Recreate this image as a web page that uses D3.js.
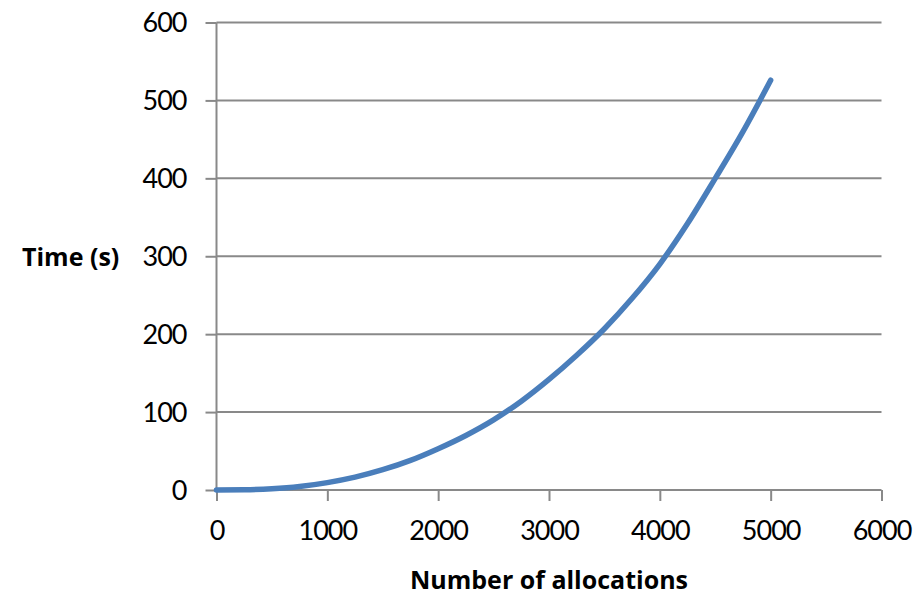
<!DOCTYPE html>
<html><head><meta charset="utf-8">
<script src="https://cdn.jsdelivr.net/npm/d3@7"></script>
<style>body{margin:0;background:#fff}svg{display:block}</style>
</head><body>
<script>
const allocations = [0,250,500,750,1000,1250,1500,1750,2000,2250,2500,2750,3000,3250,3500,3750,4000,4250,4500,4750,5000];
const times = [0,0.3,1.6,4.5,9.5,16.5,26,38,53,70,90,114,142,173,207,246,290,342,400,460,526];
const xTicks = [0,1000,2000,3000,4000,5000,6000];
const yTicks = [0,100,200,300,400,500,600];
const xTitle = "Number of allocations";
const yTitle = "Time (s)";

const W=918,H=598;
const svg=d3.select("body").append("svg").attr("width",W).attr("height",H);
const x=d3.scaleLinear().domain([0,6000]).range([216.5,881.5]);
const y=d3.scaleLinear().domain([0,600]).range([490,22.5]);
const grid="#898989";
const font="Lato, 'Open Sans', sans-serif";
const tfont="'Open Sans', Lato, sans-serif";

// gridlines
svg.append("g").selectAll("line").data(yTicks.filter(d=>d>0)).join("line")
 .attr("x1",x(0)).attr("x2",x(6000)).attr("y1",d=>y(d)).attr("y2",d=>y(d))
 .attr("stroke",grid).attr("stroke-width",2);

// y axis
const ya=svg.append("g").attr("transform",`translate(${x(0)},0)`)
 .call(d3.axisLeft(y).tickValues(yTicks).tickSize(11).tickPadding(19));
ya.select(".domain").attr("stroke",grid).attr("stroke-width",2).attr("d",`M0,${y(0)}V${y(600)}`);
ya.selectAll(".tick line").attr("stroke",grid).attr("stroke-width",2);
ya.selectAll(".tick text").attr("font-family",font).attr("font-size",27).attr("fill","#000").attr("letter-spacing","-1px").attr("dy","0.34em");

// x axis
const xa=svg.append("g").attr("transform",`translate(0,${y(0)})`)
 .call(d3.axisBottom(x).tickValues(xTicks).tickSize(11).tickPadding(20).tickFormat(d3.format("d")));
xa.select(".domain").attr("stroke",grid).attr("stroke-width",2).attr("d",`M${x(0)},0H${x(6000)}`);
xa.selectAll(".tick line").attr("stroke",grid).attr("stroke-width",2);
xa.selectAll(".tick text").attr("font-family",font).attr("font-size",27).attr("fill","#000").attr("letter-spacing","-1px").attr("dy","0.71em");

// line
const line=d3.line().x((d,i)=>x(allocations[i])).y(d=>y(d)).curve(d3.curveMonotoneX);
svg.append("path").datum(times).attr("d",line).attr("fill","none")
 .attr("stroke","#4a7ebb").attr("stroke-width",5.5).attr("stroke-linecap","round").attr("stroke-linejoin","round");

// titles
svg.append("text").attr("x",(x(0)+x(6000))/2).attr("y",589).attr("text-anchor","middle")
 .attr("font-family",tfont).attr("font-weight","bold").attr("font-size",25).text(xTitle);
svg.append("text").attr("x",22).attr("y",266).attr("text-anchor","start")
 .attr("font-family",tfont).attr("font-weight","bold").attr("font-size",25).text(yTitle);
</script>
</body></html>
